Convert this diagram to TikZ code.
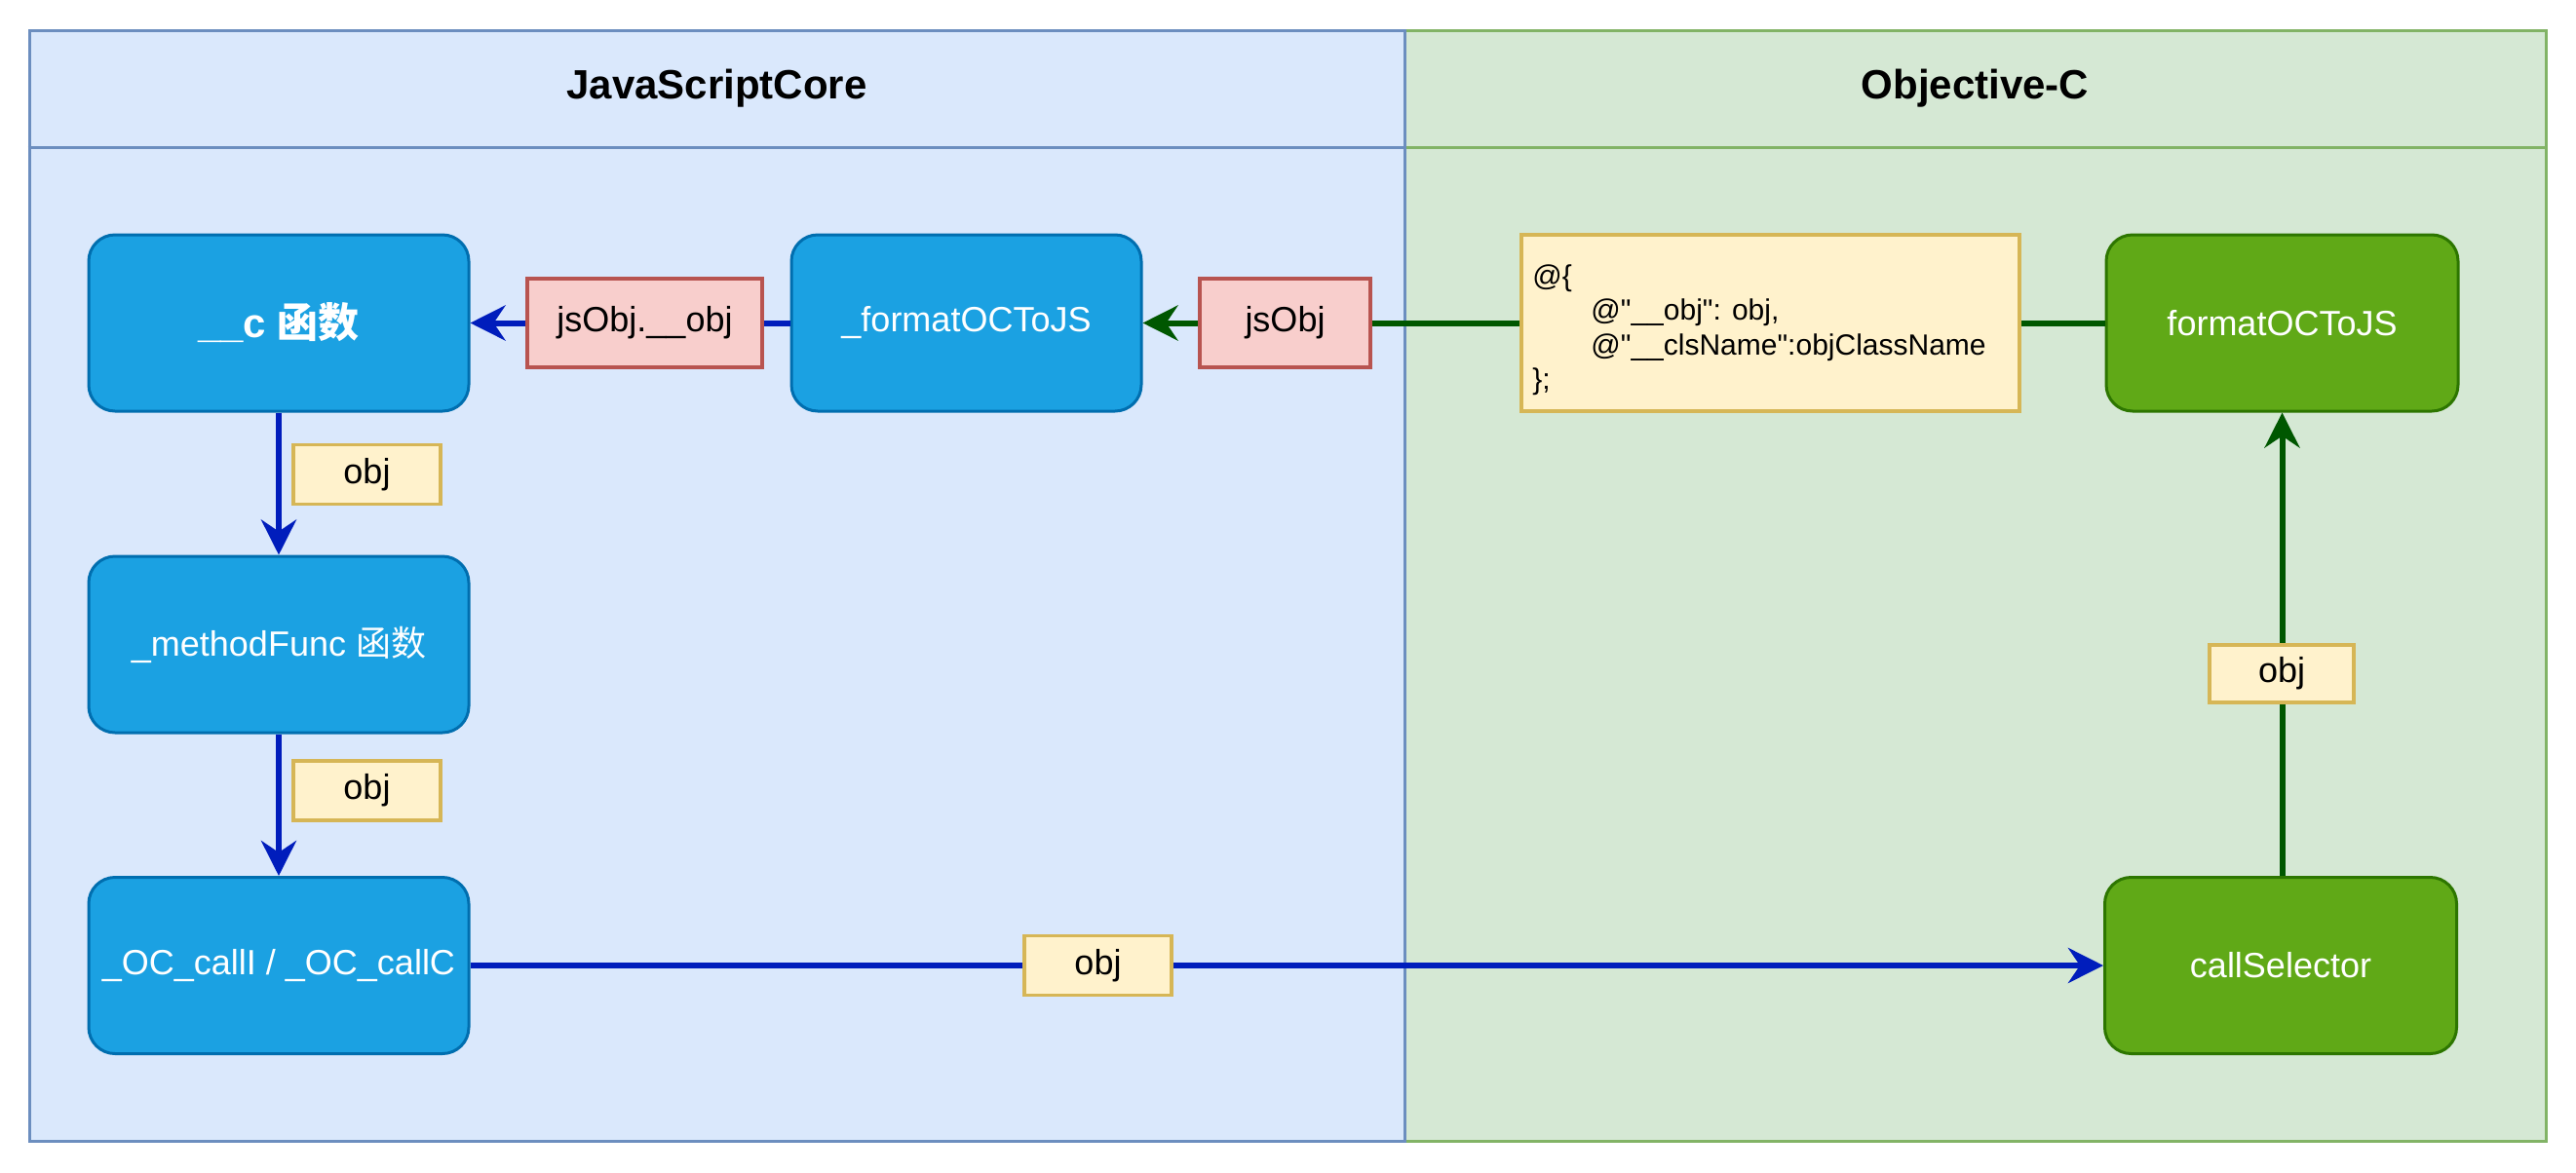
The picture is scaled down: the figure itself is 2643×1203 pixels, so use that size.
\documentclass[tikz,border=0pt]{standalone}
\usepackage{fontspec}
\setmainfont{Liberation Sans}
\newfontfamily\cjk{Noto Sans CJK SC}
\usetikzlibrary{arrows.meta}
\definecolor{jsfill}{HTML}{DAE8FC}
\definecolor{jsstroke}{HTML}{6C8EBF}
\definecolor{ocfill}{HTML}{D5E8D4}
\definecolor{ocstroke}{HTML}{82B366}
\definecolor{bluefill}{HTML}{1BA1E2}
\definecolor{bluestroke}{HTML}{006EAF}
\definecolor{greenfill}{HTML}{60A917}
\definecolor{greenstroke}{HTML}{2D7600}
\definecolor{redfill}{HTML}{F8CECC}
\definecolor{redstroke}{HTML}{B85450}
\definecolor{yelfill}{HTML}{FFF2CC}
\definecolor{yelstroke}{HTML}{D6B656}
\definecolor{bluearr}{HTML}{001DBC}
\definecolor{greenarr}{HTML}{005700}
\begin{document}
\begin{tikzpicture}[x=1pt,y=-1pt,
  lanebox/.style={draw, line width=3pt, inner sep=0pt, minimum width=#1, minimum height=1140},
  header/.style={font=\bfseries\fontsize{42}{50}\selectfont, text=black},
  bluebox/.style={draw=bluestroke, fill=bluefill, line width=3pt, rounded corners=27pt,
    minimum width=390, minimum height=181, inner sep=0pt, text=white, font=\fontsize{36}{43}\selectfont},
  greenbox/.style={draw=greenstroke, fill=greenfill, line width=3pt, rounded corners=27pt,
    minimum width=361, minimum height=181, inner sep=0pt, text=white, font=\fontsize{36}{43}\selectfont},
  redlbl/.style={draw=redstroke, fill=redfill, line width=3.5pt, inner sep=0pt,
    minimum height=91, font=\fontsize{36}{43}\selectfont, text=black},
  yellbl/.style={draw=yelstroke, fill=yelfill, line width=3.5pt, inner sep=0pt,
    minimum width=151, minimum height=61, font=\fontsize{36}{43}\selectfont, text=black},
  tipstyle/.style={-{Stealth[length=36pt,width=36pt,inset=12pt]}},
  bluearrow/.style={draw=bluearr, line width=6pt, tipstyle},
  greenarrow/.style={draw=greenarr, line width=6pt, tipstyle},
]
\useasboundingbox[fill=white] (0,0) rectangle (2643,1203);

% lanes
\node[lanebox=1171, draw=ocstroke, fill=ocfill] (oclane) at (2026.5,601) {};
\draw[ocstroke, line width=3pt] (oclane.west |- 0,151) -- (oclane.east |- 0,151);
\node[lanebox=1411, draw=jsstroke, fill=jsfill] (jslane) at (735.5,601) {};
\draw[jsstroke, line width=3pt] (jslane.west |- 0,151) -- (jslane.east |- 0,151);
\node[header] (jshead) at (735.5,91) {JavaScriptCore};
\node[header] (ochead) at (2026.5,91) {Objective-C};

% boxes
\node[bluebox, font=\bfseries\fontsize{42}{50}\selectfont] (cfunc) at (286,331.5) {\_\_c {\cjk\bfseries 函数}};
\node[bluebox, minimum width=359] (fmtjs) at (991.5,331.5) {\_formatOCToJS};
\node[bluebox] (method) at (286,661.5) {\_methodFunc {\cjk 函数}};
\node[bluebox] (occall) at (286,991) {\_OC\_callI / \_OC\_callC};
\node[greenbox] (fmtoc) at (2341.5,331.5) {formatOCToJS};
\node[greenbox] (callsel) at (2340,991) {callSelector};

% connectors
\draw[bluearrow] (cfunc.south) -- (method.north);
\draw[bluearrow] (method.south) -- (occall.north);
\draw[bluearrow] (occall.east) -- (callsel.west);
\draw[greenarrow] (callsel.north -| fmtoc.south) -- (fmtoc.south);
\draw[greenarrow] (fmtoc.west) -- (fmtjs.east);
\draw[bluearrow] (fmtjs.west) -- (cfunc.east);

% labels
\node[redlbl, minimum width=241] (l1) at (661.5,331.5) {jsObj.\_\_obj};
\node[redlbl, minimum width=175] (l2) at (1318.5,331.5) {jsObj};
\node[draw=yelstroke, fill=yelfill, line width=3.5pt, inner sep=0pt,
  minimum width=511, minimum height=181] (dict) at (1816.5,331.5) {};
\node[anchor=west, inner sep=0pt, font=\fontsize{30}{35.5}\selectfont]
  (dicttxt) at ([xshift=13pt,yshift=-8pt]dict.west)
  {\begin{tabular}{@{}l@{}}
   @\{\\
   \hspace*{60pt}@\textquotedbl\_\_obj\textquotedbl: obj,\\
   \hspace*{60pt}@\textquotedbl\_\_clsName\textquotedbl:objClassName\\
   \};
   \end{tabular}};
\node[yellbl] (o1) at (376.5,487) {obj};
\node[yellbl] (o2) at (376.5,811.5) {obj};
\node[yellbl] (o3) at (1126.5,991) {obj};
\node[yellbl, minimum width=148, minimum height=59] (o4) at (2341,691.5) {obj};
\end{tikzpicture}
\end{document}
